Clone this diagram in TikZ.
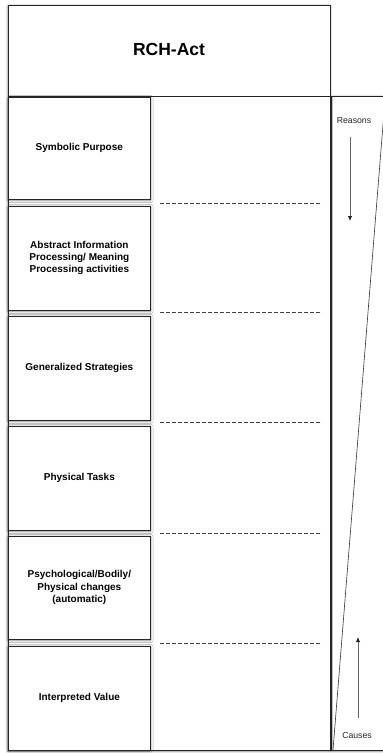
\documentclass[tikz,border=0pt]{standalone}
\usepackage{fontspec}
\setmainfont{Liberation Sans}
\usetikzlibrary{shadows.blur,arrows.meta}

\begin{document}
\begin{tikzpicture}[x=1pt,y=-1pt,
  frame/.style={draw=black!85, line width=0.9pt, fill=white},
  shade/.style={blur shadow={shadow xshift=0pt, shadow yshift=-1pt, shadow blur radius=2.5pt, shadow opacity=45}},
  levelbox/.style={frame, shade, minimum width=142.7pt, align=center,
    font=\bfseries\fontsize{10}{12.3}\selectfont, inner sep=0pt},
  sep/.style={draw=black!75, line width=0.7pt, dash pattern=on 3.5pt off 2.5pt},
  hint/.style={font=\fontsize{8.7}{10}\selectfont, text=black!85},
  flow/.style={draw=black!60, line width=0.8pt,
    -{Latex[length=5pt,width=4.5pt,color=black!85]}}
]
\useasboundingbox (0,0) rectangle (383,753);

% side panel with the reasons/causes scale
\node[frame, shade, minimum width=60pt, minimum height=654pt, inner sep=0pt] (panel) at (361,423) {};

% main board
\node[frame, shade, minimum width=322pt, minimum height=745pt, inner sep=0pt] (board) at (169,377.5) {};
\node[font=\bfseries\fontsize{17.5}{20}\selectfont] (title) at (169,49) {RCH-Act};
\coordinate (tl) at (8,96.5);
\coordinate (tr) at (330,96.5);
\draw[black!85, line width=0.9pt] (tl) -- (tr);

% levels
\node[levelbox, minimum height=102pt] (l1) at (79.35,148) {Symbolic Purpose};
\node[levelbox, minimum height=104pt] (l2) at (79.35,258) {Abstract Information\\Processing/ Meaning\\Processing activities};
\node[levelbox, minimum height=104pt] (l3) at (79.35,368) {Generalized Strategies};
\node[levelbox, minimum height=104pt] (l4) at (79.35,478) {Physical Tasks};
\node[levelbox, minimum height=103pt] (l5) at (79.35,587.5) {Psychological/Bodily/\\Physical changes\\(automatic)};
\node[levelbox, minimum height=104pt] (l6) at (79.35,698) {Interpreted Value};

% dashed separators in the middle column
\foreach \k/\y in {1/203,2/312,3/422,4/533,5/643}{
  \coordinate (s\k a) at (160,\y);
  \coordinate (s\k b) at (322,\y);
  \draw[sep] (s\k a) -- (s\k b);
}

% slanted scale line
\coordinate (d0) at (333,750);
\coordinate (d1) at (385.3,96);
\draw[black!80, line width=0.6pt] (d0) -- (d1);

% reasons / causes
\node[hint] (reasons) at (354,121) {Reasons};
\node[hint] (causes) at (357,735) {Causes};
\coordinate (r0) at (350,137);
\coordinate (r1) at (350,221);
\draw[flow] (r0) -- (r1);
\coordinate (c0) at (358,718);
\coordinate (c1) at (358,637);
\draw[flow] (c0) -- (c1);
\end{tikzpicture}
\end{document}
